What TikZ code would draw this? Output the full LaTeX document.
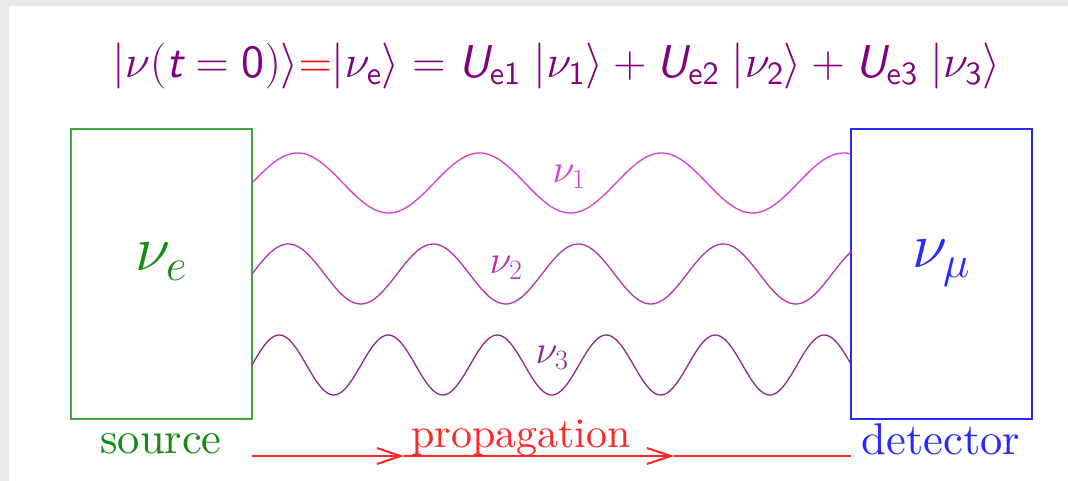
\RequirePackage{fix-cm}
\documentclass[tikz,border=0pt]{standalone}
\usepackage{amsmath}
\usepackage{fontspec}
\usepackage{tikz}
\usetikzlibrary{arrows.meta,positioning}

\setsansfont{lmsans10-regular.otf}[ItalicFont=lmsans10-oblique.otf]
\newfontfamily\captionFont{lmroman10-regular.otf}

\definecolor{panelGray}{RGB}{232,232,230}
\definecolor{srcGreen}{RGB}{60,165,60}
\definecolor{srcText}{RGB}{20,140,20}
\definecolor{detBlue}{RGB}{40,40,255}
\definecolor{eqViolet}{RGB}{128,0,128}
\definecolor{waveA}{RGB}{214,60,214}
\definecolor{waveB}{RGB}{180,50,180}
\definecolor{waveC}{RGB}{145,40,145}
\definecolor{propRed}{RGB}{255,40,40}

\newcommand{\ketSf}[1]{|#1\rangle}
\newcommand{\sfIt}[1]{\textsf{\itshape #1}}

\begin{document}
\begin{tikzpicture}[
    x=1pt, y=-1pt,
    boxNode/.style={
        rectangle, line width=1.5pt, minimum width=181pt, minimum height=290pt,
        inner sep=0pt
    },
    sourceBox/.style={boxNode, draw=srcGreen},
    detectorBox/.style={boxNode, draw=detBlue},
    bigNu/.style={font=\fontsize{64}{70}\selectfont},
    caption/.style={anchor=base, font=\captionFont\fontsize{44.5}{48}\selectfont},
    waveLabel/.style={font=\fontsize{40}{44}\selectfont},
    waveLine/.style={line width=1.3pt, smooth, samples=240},
    propLine/.style={line width=2pt, draw=propRed},
    propArrow/.style={propLine, -{Straight Barb[length=24pt, width=16pt, line width=2pt]}}
]
\useasboundingbox (0,0) rectangle (1068,481);

% slide background
\fill[panelGray] (0,0) rectangle (1068,481);
\fill[white] (9,6) rectangle (1068,481);

% initial state
\node[text=eqViolet, font=\fontsize{46}{50}\selectfont] (state) at (556,66) {%
    $\ketSf{\nu(\sfIt{t} = \textsf{0})}{\color{red}=}\ketSf{\nu_{\textsf{e}}}
    = \sfIt{U}_{\textsf{e1}}\;\ketSf{\nu_{\textsf{1}}}
    + \sfIt{U}_{\textsf{e2}}\;\ketSf{\nu_{\textsf{2}}}
    + \sfIt{U}_{\textsf{e3}}\;\ketSf{\nu_{\textsf{3}}}$};

% source and detector
\node[sourceBox] (source) at (161.5,274) {};
\node[detectorBox] (detector) at (941.5,274) {};

\node[bigNu, text=srcText] (nuE) at (161,262) {$\nu_e$};
\node[bigNu, text=detBlue] (nuMu) at (941,263) {$\nu_\mu$};

\node[caption, text=srcText] (sourceText) at (161,453) {source};
\node[caption, text=detBlue] (detectorText) at (941,454) {detector};

% mass eigenstates
\draw[waveLine, waveA] plot[domain=252:851] (\x, {183 - 30*sin((\x-252)/182*360)});
\draw[waveLine, waveB] plot[domain=252:851] (\x, {274 - 30*sin((\x-252)/145*360)});
\draw[waveLine, waveC] plot[domain=252:851] (\x, {365 - 30*sin((\x-252)/109*360)});

\node[waveLabel, text=waveA] (nuOne) at (569,177) {$\nu_1$};
\node[waveLabel, text=waveB] (nuTwo) at (506,268) {$\nu_2$};
\node[waveLabel, text=waveC] (nuThree) at (552,358) {$\nu_3$};

% propagation
\coordinate (propStart) at (252,456);
\coordinate (propMidA) at (404,456);
\coordinate (propMidB) at (674,456);
\coordinate (propEnd) at (851,456);
\draw[propArrow] (propStart) -- (propMidA);
\draw[propArrow] (propMidA) -- (propMidB);
\draw[propLine] (propMidB) -- (propEnd);
\node[anchor=base, text=propRed, font=\captionFont\fontsize{42}{46}\selectfont] (propText) at (521,447) {propagation};

\end{tikzpicture}
\end{document}
